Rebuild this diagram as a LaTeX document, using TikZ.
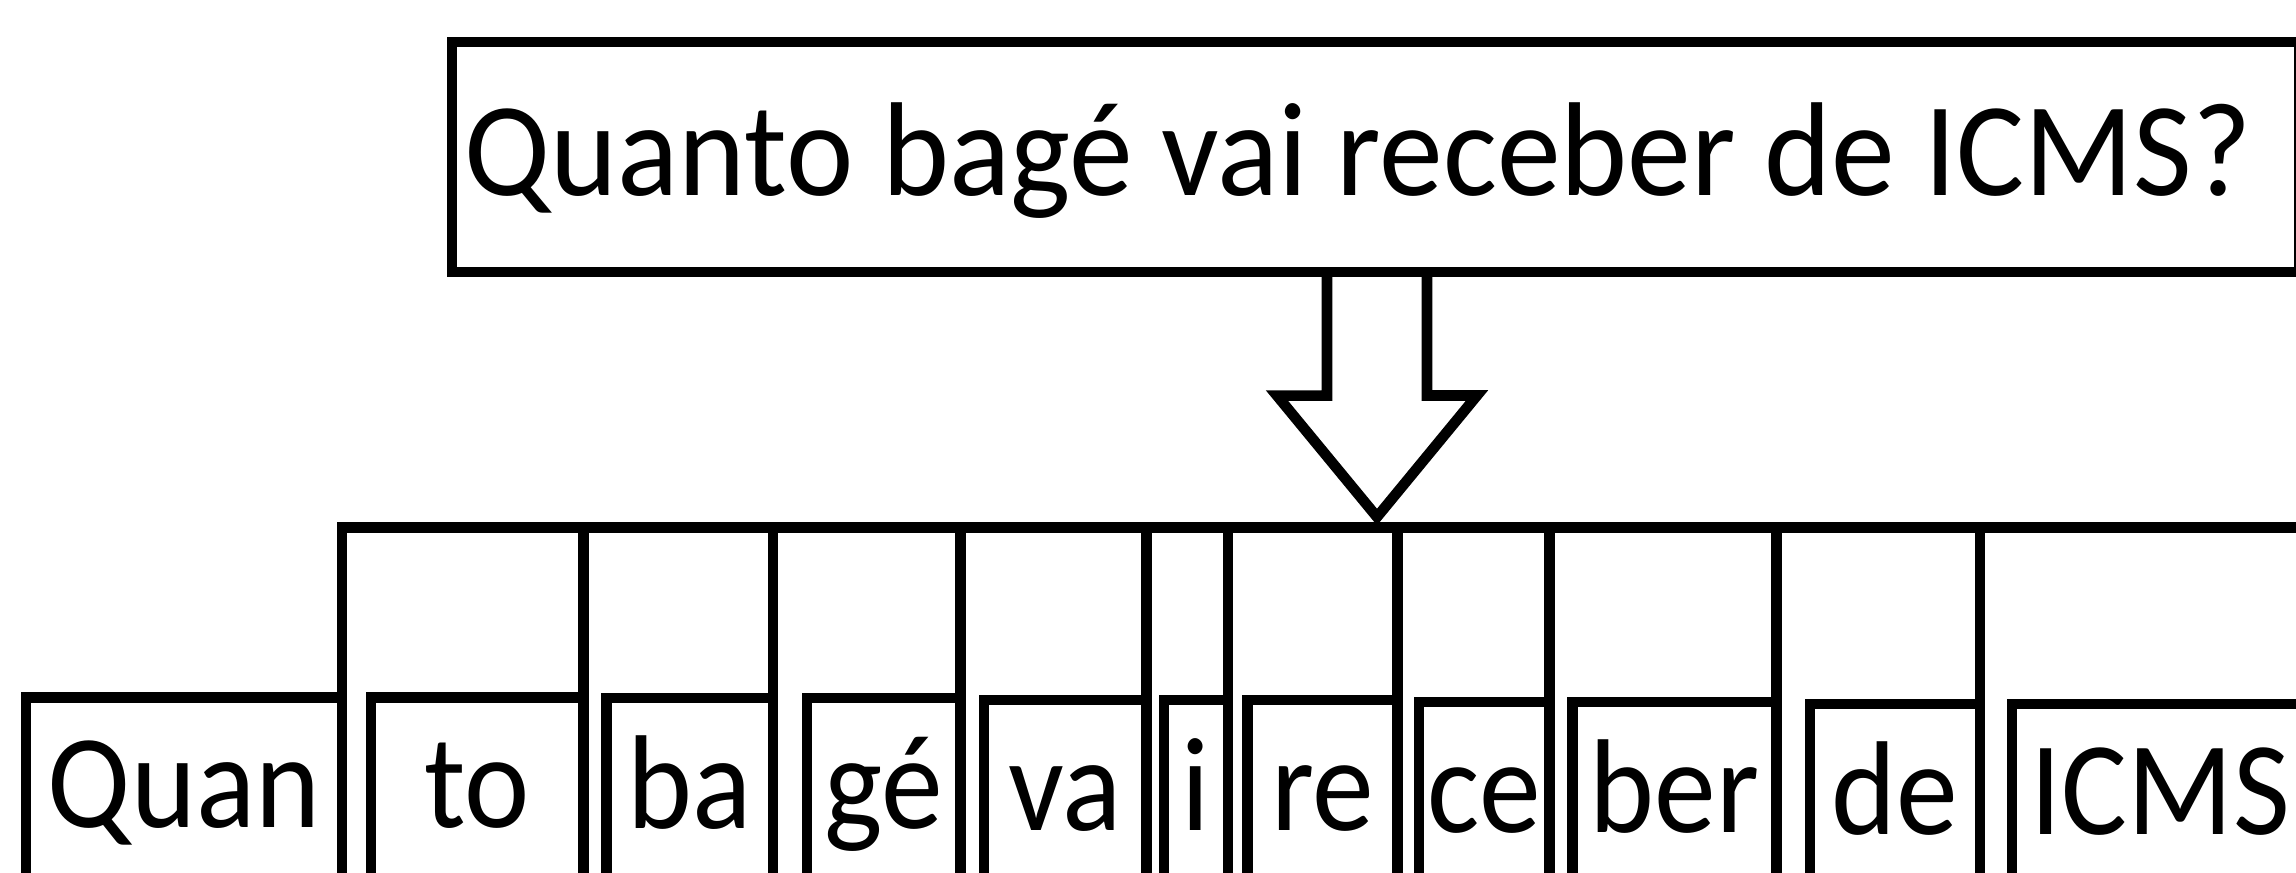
\documentclass[tikz,border=0pt]{standalone}
\usepackage{fontspec}
\setmainfont{Carlito}[FakeStretch=0.925]
\newfontfamily\fontefrase{Carlito}[FakeStretch=0.955]
\begin{document}
\begin{tikzpicture}
  [x=0.01cm,y=-0.01cm,line width=3pt,
   caixa/.style={draw,line width=3pt,outer sep=0pt,inner sep=0pt,anchor=north west,
     font=\fontsize{38}{46}\selectfont},
   frase/.style={caixa,font=\fontefrase\fontsize{38}{46}\selectfont,
     minimum height=2.3cm,text height=1.11cm,text depth=0.335cm},
   silaba/.style={caixa,minimum height=1.9cm,text height=1.04cm,text depth=0.335cm}]
  \useasboundingbox (0,0) rectangle (2296,873);

  \node[frase,minimum width=18.46cm] (q) at (452,42) {Quanto bagé vai receber de ICMS?\hspace*{0.35cm}};

  \foreach \n/\x/\y/\w/\t in {s1/26/697.5/3.16/Quan, s2/371/697.5/2.125/to,
      s3/606.5/698/1.665/ba, s4/807/698/1.535/gé, s5/984/700/1.625/va,
      s6/1164/700/0.64/i, s7/1247.5/700/1.5/re, s8/1419/702/1.305/ce,
      s9/1572.5/702/2.04/ber, s10/1810/704/1.7/de, s11/2012/704/2.96/ICMS}
    \node[silaba,minimum width=\w cm] (\n) at (\x,\y) {\t};

  \coordinate (ponta) at (1377,517);
  \coordinate (fim) at (2310,527.5);

  \draw (q.south -| ponta) ++(-50,0) -- ++(0,123.5) -- ++(-50,0) -- (ponta)
    -- ++(100,-121.5) -- ++(-50,0) -- ++(0,-123.5);

  \draw (s1.north east) |- (fim);
  \foreach \n in {s2,s3,s4,s5,s6,s7,s8,s9,s10}
    \draw (\n.north east) -- (\n.north east |- fim);

\end{tikzpicture}
\end{document}
